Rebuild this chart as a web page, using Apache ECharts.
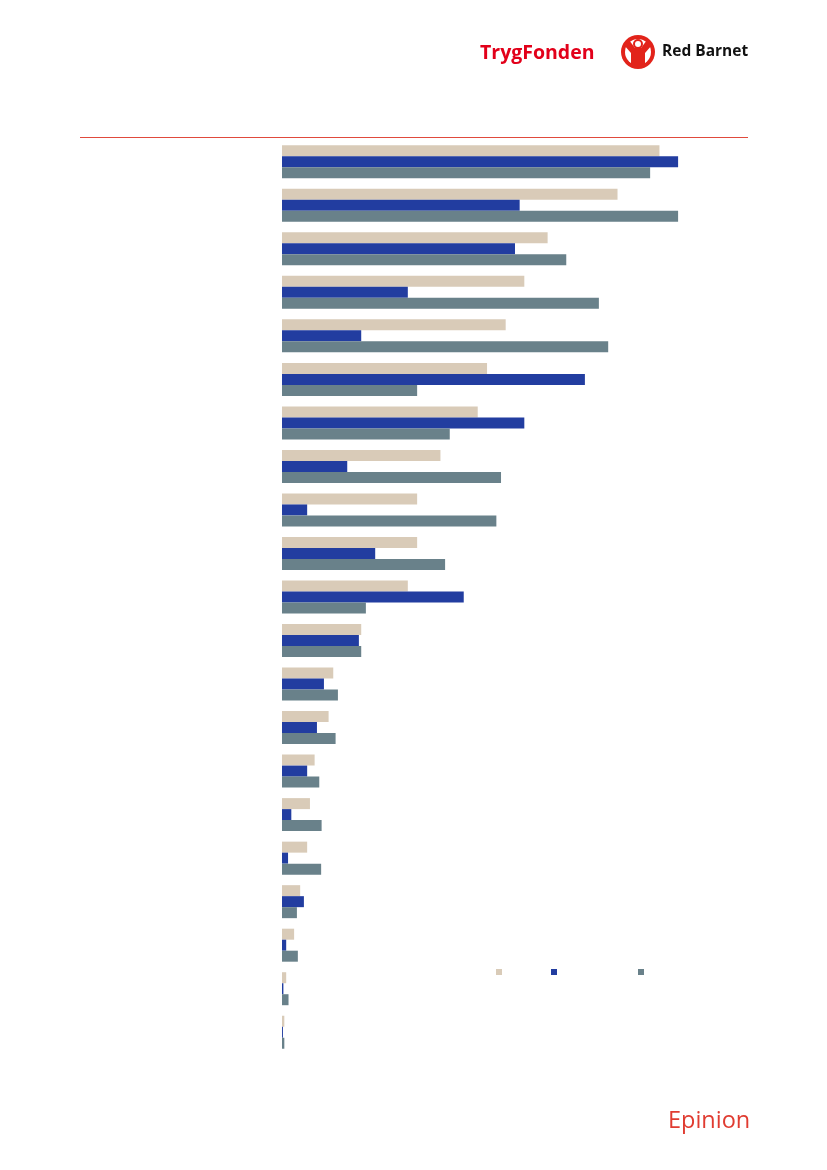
<!DOCTYPE html>
<html>
<head>
<meta charset="utf-8">
<script src="https://cdn.jsdelivr.net/npm/echarts@6/dist/echarts.min.js"></script>
<style>html,body{margin:0;padding:0;background:#fff}#c{width:827px;height:1170px}</style>
</head>
<body>
<div id="c"></div>
<script>
const categories = ['1','2','3','4','5','6','7','8','9','10','11','12','13','14','15','16','17','18','19','20','21'];
const seriesNames = ['Serie A', 'Serie B', 'Serie C'];
const valuesA = [81, 72, 57, 52, 48, 44, 42, 34, 29, 29, 27, 17, 11, 10, 7, 6, 5.4, 3.9, 2.6, 0.9, 0.5];
const valuesB = [85, 51, 50, 27, 17, 65, 52, 14, 5.4, 20, 39, 16.5, 9, 7.5, 5.4, 2, 1.3, 4.7, 0.9, 0.3, 0.2];
const valuesC = [79, 85, 61, 68, 70, 29, 36, 47, 46, 35, 18, 17, 12, 11.5, 8, 8.5, 8.4, 3.2, 3.4, 1.4, 0.5];
const colors = ['#d9cbb8', '#223da0', '#69818a'];

const chart = echarts.init(document.getElementById('c'), null, {renderer: 'canvas'});
const mk = (name, data, i) => ({
  name, type: 'bar', data, barWidth: 11, barGap: '0%',
  itemStyle: {color: colors[i]}, silent: true
});
const legendLefts = [491, 546, 633];
chart.setOption({
  animation: false,
  grid: {left: 282, right: 79, top: 140, height: 914, containLabel: false},
  xAxis: {type: 'value', min: 0, max: 100, show: false},
  yAxis: {type: 'category', data: categories, inverse: true,
    axisLine: {show: false}, axisTick: {show: false}, axisLabel: {show: false}},
  legend: seriesNames.map((n, i) => ({
    data: [n], left: legendLefts[i], top: 964, itemWidth: 6, itemHeight: 6,
    icon: 'rect', formatter: () => '', selectedMode: false
  })),
  series: [mk(seriesNames[0], valuesA, 0), mk(seriesNames[1], valuesB, 1), mk(seriesNames[2], valuesC, 2)],
  graphic: [
    {type: 'line', shape: {x1: 80, y1: 137.5, x2: 748, y2: 137.5}, style: {stroke: '#e04a3c', lineWidth: 1}},
    {type: 'text', left: 480, top: 43, style: {text: 'TrygFonden', fill: '#e2001a', font: 'bold 19.5px "Open Sans", sans-serif'}},
    {type: 'group', left: 621, top: 35, children: [
      {type: 'circle', shape: {cx: 17, cy: 17, r: 17}, style: {fill: '#e2231a'}},
      {type: 'circle', shape: {cx: 17, cy: 17, r: 13}, style: {fill: '#fff'}},
      {type: 'polygon', shape: {points: [[3,10],[8,5],[14,13],[20,13],[26,5],[31,10],[24,18],[24,32],[10,32],[10,18]]}, style: {fill: '#e2231a'}},
      {type: 'circle', shape: {cx: 17, cy: 9, r: 4}, style: {fill: '#fff', stroke: '#e2231a', lineWidth: 2}}
    ]},
    {type: 'text', left: 662, top: 44, style: {text: 'Red Barnet', fill: '#111', font: 'bold 15.5px "Open Sans", sans-serif'}},
    {type: 'text', left: 668, top: 1109, style: {text: 'Epinion', fill: '#e03c31', font: '23.5px "Open Sans", sans-serif'}}
  ]
});
</script>
</body>
</html>
